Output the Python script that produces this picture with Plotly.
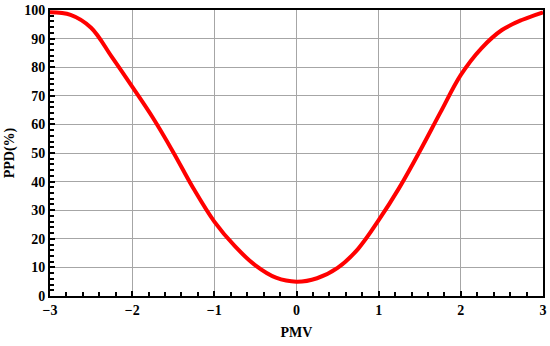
import plotly.graph_objects as go

# PMV / PPD readings taken off the curve, every 0.25 PMV
pmv = [-3.0, -2.75, -2.5, -2.25, -2.0, -1.75, -1.5, -1.25, -1.0, -0.75,
       -0.5, -0.25, 0.0, 0.25, 0.5, 0.75, 1.0, 1.25, 1.5, 1.75,
       2.0, 2.25, 2.5, 2.75, 3.0]
ppd = [99.2, 98.3, 93.8, 83.7, 73.2, 62.4, 50.3, 37.4, 26.0, 17.4,
       10.7, 6.4, 5.0, 6.2, 9.8, 16.5, 26.5, 37.8, 50.6, 64.1,
       77.3, 86.6, 93.0, 96.6, 99.2]
xticks = [-3, -2, -1, 0, 1, 2, 3]

font = dict(family="Liberation Serif", size=14, color="black", weight="bold")

fig = go.Figure(go.Scatter(
    x=pmv, y=ppd, mode="lines",
    line=dict(color="#ff0000", width=4, shape="spline", smoothing=1.0),
    showlegend=False, cliponaxis=False, hoverinfo="skip",
))

axis_common = dict(
    showline=True, linecolor="black", linewidth=2, mirror=True,
    showgrid=True, gridcolor="#a6a6a6", gridwidth=1,
    ticks="inside", ticklen=5, tickcolor="black", tickwidth=1.5,
    zeroline=False, tickfont=font, automargin=False,
)

fig.update_xaxes(
    range=[-3, 3], tickvals=xticks,
    minor=dict(dtick=0.2, ticks="inside", ticklen=4, tickcolor="black",
               tickwidth=1.5, showgrid=False),
    title=dict(text="PMV", font=font, standoff=10),
    **axis_common,
)
fig.update_yaxes(
    range=[0, 100], dtick=10,
    minor=dict(dtick=2, ticks="inside", ticklen=4, tickcolor="black",
               tickwidth=1.5, showgrid=False),
    title=dict(text="PPD(%)", font=font, standoff=6),
    **axis_common,
)

fig.update_layout(
    width=550, height=346,
    margin=dict(l=50, r=7, t=10, b=50),
    plot_bgcolor="white", paper_bgcolor="white",
    font=font,
)

# drop the default page margin so the figure sits at the window's corner
fig.write_html("out.html", config={"displayModeBar": False},
               post_script="document.body.style.margin='0';")
